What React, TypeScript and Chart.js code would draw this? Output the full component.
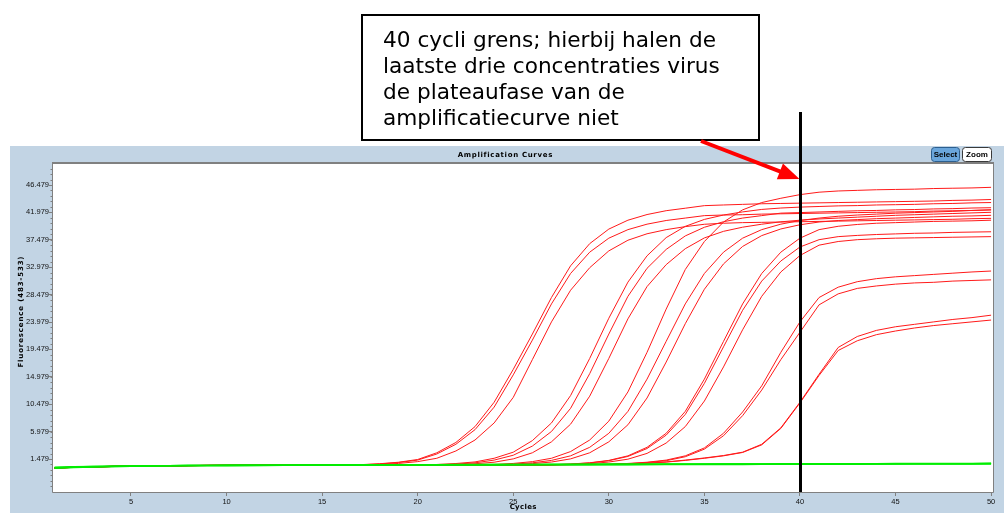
import React, { useEffect, useRef } from "react";
import { Chart, registerables } from "chart.js";

Chart.register(...registerables);

// ---------- data ----------
const cycles = [
  1, 2, 3, 4, 5, 6, 7, 8, 9, 10, 11, 12, 13, 14, 15, 16, 17, 18, 19, 20, 21, 22, 23, 24, 25,
  26, 27, 28, 29, 30, 31, 32, 33, 34, 35, 36, 37, 38, 39, 40, 41, 42, 43, 44, 45, 46, 47, 48, 49, 50,
];

const yTickValues = [1.479, 5.979, 10.479, 14.979, 19.479, 23.979, 28.479, 32.979, 37.479, 41.979, 46.479];
const xTickValues = [5, 10, 15, 20, 25, 30, 35, 40, 45, 50];

const g1a = [0.02, 0.12, 0.2, 0.26, 0.3, 0.34, 0.37, 0.4, 0.42, 0.43, 0.44, 0.44, 0.45, 0.45, 0.45,
  0.47, 0.55, 0.7, 0.95, 1.4, 2.5, 4.2, 6.8, 10.8, 16.2, 22.0, 28.01, 33.21, 36.85, 39.24, 40.7, 41.63, 42.26, 42.67, 43.09, 43.2, 43.3, 43.4, 43.45, 43.5, 43.55, 43.6, 43.65, 43.7, 43.75, 43.8, 43.85, 43.95, 44.0, 44.1];
const g1b = [0.0, 0.1, 0.18, 0.24, 0.29, 0.33, 0.36, 0.39, 0.41, 0.42, 0.43, 0.44, 0.44, 0.45, 0.45,
  0.46, 0.53, 0.66, 0.9, 1.3, 2.3, 3.9, 6.3, 10.0, 15.3, 21.0, 26.95, 31.95, 35.45, 37.75, 39.15, 40.05, 40.65, 41.05, 41.45, 41.55, 41.6, 41.7, 41.75, 41.8, 41.85, 41.9, 41.95, 42.0, 42.05, 42.1, 42.2, 42.25, 42.3, 42.4];
const g1c = [0.04, 0.14, 0.22, 0.27, 0.31, 0.35, 0.38, 0.41, 0.43, 0.44, 0.45, 0.45, 0.46, 0.46, 0.46, 0.46,
  0.5, 0.6, 0.75, 1.05, 1.6, 2.8, 4.6, 7.4, 11.6, 17.8, 24.0, 29.2, 32.9, 35.66, 37.41, 38.47, 39.15, 39.64, 40.03, 40.2, 40.3, 40.35, 40.4, 40.45, 40.5, 40.55, 40.6, 40.65, 40.7, 40.75, 40.8, 40.85, 40.95, 41.0];
const g2a = [0.01, 0.11, 0.19, 0.25, 0.3, 0.34, 0.37, 0.4, 0.42, 0.43, 0.44, 0.45, 0.45, 0.46, 0.46, 0.46, 0.46, 0.46, 0.46,
  0.48, 0.58, 0.74, 1.0, 1.6, 2.6, 4.5, 7.4, 11.9, 18.0, 24.6, 30.53, 34.85, 37.84, 39.69, 40.83, 41.55, 42.06, 42.47, 42.7, 42.85, 42.95, 43.05, 43.1, 43.2, 43.25, 43.3, 43.4, 43.45, 43.55, 43.6];
const g2b = [0.03, 0.13, 0.21, 0.27, 0.31, 0.35, 0.38, 0.4, 0.42, 0.43, 0.44, 0.44, 0.45, 0.45, 0.45, 0.45, 0.45, 0.45, 0.45,
  0.46, 0.52, 0.64, 0.85, 1.3, 2.1, 3.6, 6.0, 9.8, 15.5, 22.0, 28.2, 32.8, 35.9, 38.12, 39.54, 40.45, 41.05, 41.45, 41.86, 41.95, 42.05, 42.15, 42.25, 42.3, 42.4, 42.45, 42.55, 42.6, 42.7, 42.75];
const g2c = [0.0, 0.1, 0.19, 0.25, 0.29, 0.33, 0.36, 0.39, 0.41, 0.42, 0.43, 0.44, 0.44, 0.45, 0.45, 0.45, 0.46, 0.46, 0.46, 0.46,
  0.48, 0.56, 0.7, 0.95, 1.5, 2.5, 4.3, 7.2, 11.8, 18.0, 24.5, 29.8, 33.4, 36.02, 37.79, 38.87, 39.55, 40.04, 40.43, 40.7, 40.9, 41.05, 41.2, 41.35, 41.5, 41.6, 41.7, 41.8, 41.9, 42.0];
const g3a = [0.02, 0.12, 0.2, 0.26, 0.3, 0.34, 0.37, 0.4, 0.42, 0.43, 0.44, 0.44, 0.45, 0.45, 0.45, 0.46, 0.46, 0.46, 0.46, 0.46, 0.46, 0.46,
  0.48, 0.58, 0.75, 1.05, 1.6, 2.7, 4.6, 7.7, 12.5, 19.0, 26.1, 32.6, 37.2, 40.4, 42.4, 43.6, 44.3, 44.9, 45.3, 45.5, 45.6, 45.7, 45.75, 45.8, 45.9, 45.95, 46.0, 46.1];
const g3b = [0.0, 0.11, 0.19, 0.25, 0.29, 0.33, 0.36, 0.39, 0.41, 0.42, 0.43, 0.44, 0.44, 0.45, 0.45, 0.45, 0.45, 0.45, 0.45, 0.45, 0.45, 0.45,
  0.46, 0.52, 0.64, 0.85, 1.25, 2.0, 3.4, 5.7, 9.3, 14.6, 20.8, 26.95, 31.95, 35.45, 37.75, 39.15, 40.05, 40.65, 41.05, 41.35, 41.55, 41.7, 41.85, 41.95, 42.05, 42.15, 42.3, 42.4];
const g3c = [0.03, 0.13, 0.21, 0.27, 0.31, 0.35, 0.38, 0.41, 0.43, 0.44, 0.45, 0.45, 0.46, 0.46, 0.46, 0.46, 0.46, 0.46, 0.46, 0.46, 0.46, 0.46, 0.46,
  0.48, 0.57, 0.72, 0.98, 1.5, 2.5, 4.3, 7.1, 11.5, 17.4, 23.7, 29.36, 33.52, 36.39, 38.17, 39.26, 39.95, 40.4, 40.65, 40.8, 40.95, 41.05, 41.15, 41.25, 41.35, 41.4, 41.5];
const g4a = [0.01, 0.11, 0.2, 0.26, 0.3, 0.34, 0.37, 0.4, 0.42, 0.43, 0.44, 0.44, 0.45, 0.45, 0.45, 0.45, 0.45, 0.45, 0.45, 0.45, 0.45, 0.45, 0.45, 0.45, 0.45,
  0.47, 0.54, 0.66, 0.86, 1.25, 2.0, 3.4, 5.7, 9.3, 14.6, 20.8, 26.95, 31.95, 35.45, 37.75, 39.15, 39.7, 40.0, 40.2, 40.3, 40.4, 40.5, 40.55, 40.6, 40.7];
const g4b = [0.02, 0.12, 0.21, 0.27, 0.31, 0.35, 0.38, 0.41, 0.42, 0.43, 0.44, 0.45, 0.45, 0.45, 0.45, 0.45, 0.45, 0.45, 0.45, 0.45, 0.45, 0.45, 0.45, 0.45, 0.45,
  0.46, 0.53, 0.64, 0.83, 1.2, 1.9, 3.2, 5.4, 8.8, 13.9, 19.9, 25.9, 30.7, 34.0, 36.3, 37.5, 38.0, 38.2, 38.35, 38.45, 38.55, 38.6, 38.7, 38.75, 38.8];
const g4c = [0.0, 0.1, 0.18, 0.24, 0.29, 0.33, 0.36, 0.39, 0.41, 0.42, 0.43, 0.44, 0.44, 0.45, 0.45, 0.45, 0.45, 0.45, 0.45, 0.45, 0.45, 0.45, 0.45, 0.45, 0.45, 0.45,
  0.48, 0.57, 0.72, 0.98, 1.45, 2.4, 4.1, 6.8, 11.0, 16.6, 22.7, 28.2, 32.2, 34.9, 36.6, 37.2, 37.5, 37.65, 37.75, 37.8, 37.85, 37.9, 37.95, 38.0];
const g5a = [0.03, 0.13, 0.21, 0.27, 0.31, 0.35, 0.38, 0.41, 0.43, 0.44, 0.45, 0.46, 0.47, 0.48, 0.49, 0.5, 0.5, 0.51, 0.52, 0.52, 0.53, 0.53, 0.54, 0.54, 0.55, 0.55, 0.56, 0.57, 0.58,
  0.6, 0.75, 0.95, 1.3, 2.0, 3.3, 5.7, 9.2, 13.5, 19.0, 24.0, 28.0, 29.7, 30.6, 31.1, 31.4, 31.6, 31.8, 32.0, 32.2, 32.35];
const g5b = [0.0, 0.1, 0.19, 0.25, 0.3, 0.34, 0.37, 0.4, 0.42, 0.43, 0.44, 0.45, 0.46, 0.47, 0.48, 0.49, 0.49, 0.5, 0.51, 0.51, 0.52, 0.52, 0.53, 0.53, 0.54, 0.54, 0.55, 0.56, 0.57,
  0.58, 0.7, 0.9, 1.2, 1.85, 3.1, 5.3, 8.6, 12.8, 17.8, 22.3, 26.8, 28.6, 29.5, 29.9, 30.2, 30.4, 30.5, 30.7, 30.8, 30.9];
const g6a = [0.02, 0.12, 0.2, 0.26, 0.3, 0.34, 0.37, 0.4, 0.42, 0.43, 0.44, 0.45, 0.46, 0.47, 0.48, 0.49, 0.5, 0.5, 0.51, 0.52, 0.52, 0.53, 0.53, 0.54, 0.55, 0.55, 0.56, 0.57, 0.58,
  0.6, 0.68, 0.8, 1.0, 1.3, 1.65, 2.05, 2.6, 3.9, 6.6, 10.8, 15.4, 19.8, 21.6, 22.6, 23.2, 23.6, 24.0, 24.4, 24.7, 25.1];
const g6b = [0.0, 0.1, 0.19, 0.25, 0.3, 0.34, 0.37, 0.4, 0.42, 0.43, 0.44, 0.45, 0.46, 0.47, 0.48, 0.49, 0.49, 0.5, 0.51, 0.51, 0.52, 0.52, 0.53, 0.53, 0.54, 0.54, 0.55, 0.56, 0.57,
  0.58, 0.66, 0.78, 0.97, 1.25, 1.6, 2.0, 2.55, 3.8, 6.5, 10.7, 15.2, 19.3, 20.9, 21.9, 22.5, 23.0, 23.4, 23.7, 24.0, 24.3];

const neg1 = [0.05, 0.15, 0.22, 0.27, 0.31, 0.35, 0.38, 0.4, 0.42, 0.43, 0.44, 0.45, 0.46, 0.47, 0.48, 0.49, 0.5, 0.5, 0.51, 0.52,
  0.53, 0.53, 0.54, 0.55, 0.55, 0.56, 0.57, 0.57, 0.58, 0.59, 0.59, 0.6, 0.61, 0.61, 0.62, 0.63, 0.63, 0.64, 0.65, 0.65,
  0.66, 0.67, 0.67, 0.68, 0.69, 0.69, 0.7, 0.71, 0.71, 0.72];
const neg2 = [0.1, 0.2, 0.26, 0.3, 0.33, 0.36, 0.38, 0.4, 0.41, 0.42, 0.43, 0.44, 0.45, 0.45, 0.46, 0.47, 0.47, 0.48, 0.49, 0.49,
  0.5, 0.51, 0.51, 0.52, 0.53, 0.53, 0.54, 0.54, 0.55, 0.56, 0.56, 0.57, 0.57, 0.58, 0.59, 0.59, 0.6, 0.61, 0.61, 0.62,
  0.63, 0.63, 0.64, 0.65, 0.65, 0.66, 0.67, 0.67, 0.68, 0.69];
const neg3 = [-0.05, 0.08, 0.17, 0.24, 0.29, 0.33, 0.36, 0.39, 0.41, 0.43, 0.45, 0.46, 0.47, 0.48, 0.49, 0.5, 0.51, 0.52, 0.53, 0.53,
  0.54, 0.55, 0.56, 0.56, 0.57, 0.58, 0.59, 0.59, 0.6, 0.61, 0.62, 0.62, 0.63, 0.64, 0.65, 0.65, 0.66, 0.67, 0.68, 0.68,
  0.69, 0.7, 0.71, 0.71, 0.72, 0.73, 0.74, 0.74, 0.75, 0.76];

const positiveSeries = [g1a, g1b, g1c, g2a, g2b, g2c, g3a, g3b, g3c, g4a, g4b, g4c, g5a, g5b, g6a, g6b];
const negativeSeries = [neg1, neg2, neg3];

const noteLines = [
  "40 cycli grens; hierbij halen de",
  "laatste drie concentraties virus",
  "de plateaufase van de",
  "amplificatiecurve niet",
];
const chartTitle = "Amplification Curves";
const xTitle = "Cycles";
const yTitle = "Fluorescence (483-533)";
const cutoffCycle = 40;

// ---------- style ----------
const PANEL = "#c2d4e4";
const FRAME = "#808080";
const SMALL_FONT = '"Liberation Sans", Arial, sans-serif';
const BOLD_FONT = '"DejaVu Sans", Verdana, sans-serif';

function fitText(ctx: any, text: string, x: number, y: number, font: string, target: number) {
  ctx.font = font;
  ctx.letterSpacing = "0px";
  const w = ctx.measureText(text).width;
  const sp = Math.max(-0.4, Math.min(1.2, (target - w) / text.length));
  ctx.letterSpacing = sp.toFixed(2) + "px";
  ctx.fillText(text, x + sp / 2, y);
  ctx.letterSpacing = "0px";
}

const overlayPlugin = {
  id: "overlay",
  beforeDraw(chart: any) {
    const { ctx, chartArea: a } = chart;
    ctx.save();
    ctx.fillStyle = "#ffffff";
    ctx.fillRect(0, 0, chart.width, chart.height);
    ctx.fillStyle = PANEL;
    ctx.fillRect(10, 146, chart.width - 10, chart.height - 146);
    ctx.fillStyle = "#ffffff";
    ctx.fillRect(a.left, a.top, a.right - a.left, a.bottom - a.top);
    ctx.restore();
  },
  afterDraw(chart: any) {
    const { ctx, chartArea: a, scales } = chart;
    const ys = scales.y;
    ctx.save();

    // frame
    ctx.strokeStyle = FRAME;
    ctx.lineWidth = 2;
    ctx.beginPath();
    ctx.moveTo(a.left - 1, a.top - 1);
    ctx.lineTo(a.right + 1, a.top - 1);
    ctx.stroke();
    ctx.lineWidth = 1;
    ctx.beginPath();
    ctx.moveTo(a.left - 0.5, a.top - 1);
    ctx.lineTo(a.left - 0.5, a.bottom + 0.5);
    ctx.lineTo(a.right + 0.5, a.bottom + 0.5);
    ctx.lineTo(a.right + 0.5, a.top - 1);
    ctx.stroke();

    // minor y ticks
    ctx.beginPath();
    const step = (yTickValues[1] - yTickValues[0]) / 5;
    for (let v = yTickValues[0] - step * 5; v <= ys.max; v += step) {
      if (v < ys.min) continue;
      const py = Math.round(ys.getPixelForValue(v)) + 0.5;
      ctx.moveTo(a.left - 2.5, py);
      ctx.lineTo(a.left, py);
    }
    ctx.stroke();

    // chart title
    ctx.fillStyle = "#000";
    ctx.textAlign = "center";
    ctx.textBaseline = "middle";
    fitText(ctx, chartTitle, 505, 155, `bold 7px ${BOLD_FONT}`, 95);

    // buttons
    const drawButton = (x: number, y: number, w: number, h: number, fill: string, stroke: string, label: string) => {
      ctx.beginPath();
      (ctx as any).roundRect(x + 0.5, y + 0.5, w, h, 3);
      ctx.fillStyle = fill;
      ctx.fill();
      ctx.strokeStyle = stroke;
      ctx.lineWidth = 1;
      ctx.stroke();
      ctx.fillStyle = "#000";
      ctx.font = `bold 8px ${SMALL_FONT}`;
      ctx.textAlign = "center";
      ctx.textBaseline = "middle";
      ctx.fillText(label, x + w / 2 + 0.5, y + h / 2 + 1);
    };
    drawButton(931, 147, 28, 14, "#6aa6dc", "#2d5f8f", "Select");
    drawButton(962, 147, 29, 14, "#ffffff", "#3a3a3a", "Zoom");

    // axis titles
    ctx.fillStyle = "#000";
    ctx.textAlign = "center";
    ctx.textBaseline = "middle";
    fitText(ctx, xTitle, (a.left + a.right) / 2, 507, `bold 7px ${BOLD_FONT}`, 27);
    ctx.save();
    ctx.translate(21, 312);
    ctx.rotate(-Math.PI / 2);
    fitText(ctx, yTitle, 0, 0, `bold 7px ${BOLD_FONT}`, 112);
    ctx.restore();

    // cut-off line
    const px = Math.round(scales.x.getPixelForValue(cutoffCycle)) + 0.5;
    ctx.strokeStyle = "#000";
    ctx.lineWidth = 3;
    ctx.beginPath();
    ctx.moveTo(px, 112);
    ctx.lineTo(px, a.bottom);
    ctx.stroke();

    // annotation box
    ctx.fillStyle = "#fff";
    ctx.fillRect(362, 15, 397, 125);
    ctx.strokeStyle = "#000";
    ctx.lineWidth = 2;
    ctx.strokeRect(362, 15, 397, 125);
    ctx.fillStyle = "#000";
    ctx.font = '20.5px "DejaVu Sans", Verdana, sans-serif';
    ctx.textAlign = "left";
    ctx.textBaseline = "alphabetic";
    const w0 = ctx.measureText(noteLines[0]).width;
    const sx = 333 / w0;
    ctx.save();
    ctx.translate(383, 0);
    ctx.scale(sx, 1);
    noteLines.forEach((t, i) => ctx.fillText(t, 0, 47 + i * 26));
    ctx.restore();

    // arrow
    const x0 = 701, y0 = 141, tx = px - 1, ty = 179;
    const dx = tx - x0, dy = ty - y0;
    const len = Math.hypot(dx, dy);
    const ux = dx / len, uy = dy / len;
    const hl = 21, hw = 8.5;
    const bx = tx - ux * hl, by = ty - uy * hl;
    ctx.strokeStyle = "#ff0000";
    ctx.lineWidth = 4;
    ctx.beginPath();
    ctx.moveTo(x0, y0);
    ctx.lineTo(bx + ux * 2, by + uy * 2);
    ctx.stroke();
    ctx.fillStyle = "#ff0000";
    ctx.beginPath();
    ctx.moveTo(tx, ty);
    ctx.lineTo(bx - uy * hw, by + ux * hw);
    ctx.lineTo(bx + uy * hw, by - ux * hw);
    ctx.closePath();
    ctx.fill();

    ctx.restore();
  },
};

export default function App() {
  const canvasRef = useRef<HTMLCanvasElement | null>(null);

  useEffect(() => {
    document.body.style.margin = "0";
    const canvas = canvasRef.current;
    if (!canvas) return;

    const toPoints = (vals: number[]) => vals.map((v, i) => ({ x: cycles[i], y: v }));
    const datasets: any[] = [];
    negativeSeries.forEach((s) =>
      datasets.push({ data: toPoints(s), borderColor: "#00ee00", borderWidth: 1.6, pointRadius: 0, tension: 0 })
    );
    positiveSeries.forEach((s) =>
      datasets.push({ data: toPoints(s), borderColor: "#ff1a1a", borderWidth: 1, pointRadius: 0, tension: 0 })
    );

    const tickFont = { size: 7.5, family: SMALL_FONT };
    const chart = new Chart(canvas, {
      type: "line",
      data: { datasets },
      options: {
        animation: false,
        responsive: false,
        devicePixelRatio: 1,
        layout: { padding: { left: 0, right: 11, top: 164, bottom: 0 } },
        plugins: {
          legend: { display: false },
          tooltip: { enabled: false },
          title: { display: false },
        },
        scales: {
          x: {
            type: "linear",
            min: 0.92,
            max: 50.1,
            afterBuildTicks: (s: any) => {
              s.ticks = xTickValues.map((v) => ({ value: v }));
            },
            afterFit: (s: any) => {
              s.height = 21;
            },
            grid: { drawOnChartArea: false, drawTicks: true, tickLength: 4, color: FRAME },
            border: { display: false },
            ticks: {
              font: tickFont,
              color: "#111",
              padding: 1,
              maxRotation: 0,
              autoSkip: false,
              callback: (v: any) => String(v),
            },
          },
          y: {
            type: "linear",
            min: -3.94,
            max: 49.93,
            afterBuildTicks: (s: any) => {
              s.ticks = yTickValues.map((v) => ({ value: v }));
            },
            afterFit: (s: any) => {
              s.width = 53;
            },
            grid: { drawOnChartArea: false, drawTicks: true, tickLength: 4, color: FRAME },
            border: { display: false },
            ticks: {
              font: tickFont,
              color: "#111",
              padding: 0,
              autoSkip: false,
              callback: (v: any) => Number(v).toFixed(3),
            },
          },
        },
      } as any,
      plugins: [overlayPlugin],
    });

    return () => chart.destroy();
  }, []);

  return (
    <div style={{ width: 1004, height: 513 }}>
      <canvas ref={canvasRef} width={1004} height={513} style={{ display: "block" }} />
    </div>
  );
}
